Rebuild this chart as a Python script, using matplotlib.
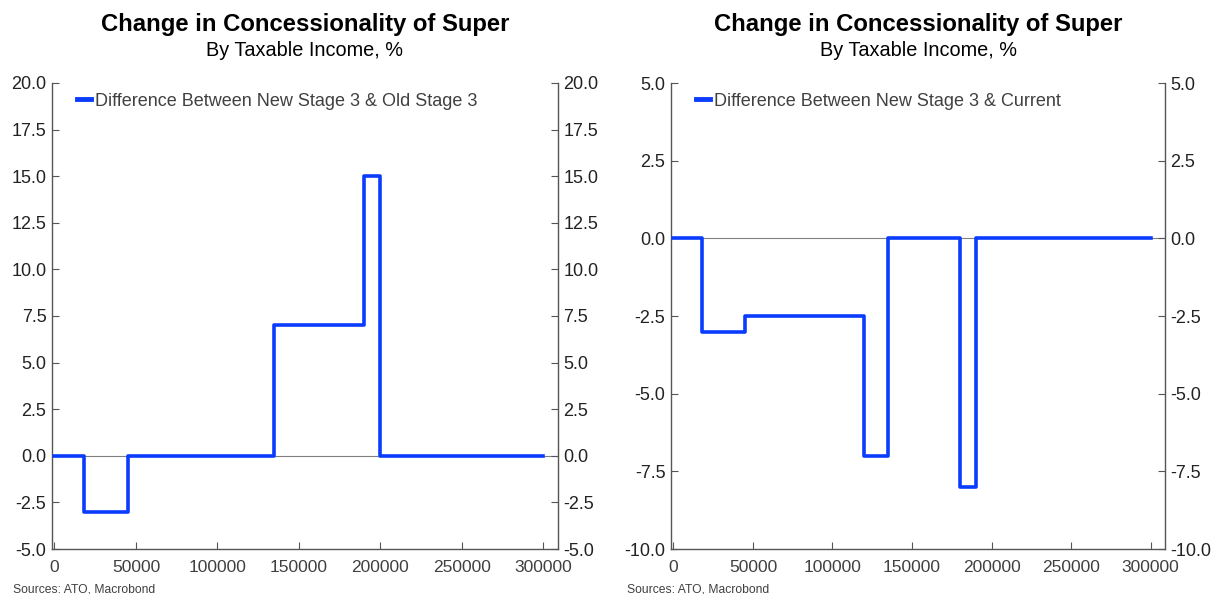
import matplotlib
matplotlib.use('Agg')
import matplotlib.pyplot as plt
from matplotlib.ticker import MultipleLocator, FormatStrFormatter

plt.rcParams['font.family'] = ['Liberation Sans', 'DejaVu Sans']

# step edges (taxable income) and values
x1 = [0, 18200, 18200, 45000, 45000, 135000, 135000, 190000, 190000, 200000, 200000, 300000]
y1 = [0, 0, -3, -3, 0, 0, 7, 7, 15, 15, 0, 0]

x2 = [0, 18200, 18200, 45000, 45000, 120000, 120000, 135000, 135000, 180000, 180000, 190000, 190000, 300000]
y2 = [0, 0, -3, -3, -2.5, -2.5, -7, -7, 0, 0, -8, -8, 0, 0]

label1 = 'Difference Between New Stage 3 & Old Stage 3'
label2 = 'Difference Between New Stage 3 & Current'
title = 'Change in Concessionality of Super'
subtitle = 'By Taxable Income, %'
source = 'Sources: ATO, Macrobond'

c_line = '#0a3cff'
c_txt = '#404040'

fig = plt.figure(figsize=(12.19, 5.94), dpi=100)

# axes positions in figure fractions (from pixel measures)
W, H = 1219, 594
ax_l = fig.add_axes([52/W, 1-549/H, (558-52)/W, (549-83)/H])
ax_r = fig.add_axes([671/W, 1-549/H, (1165-671)/W, (549-83)/H])

panels = [
	(ax_l, x1, y1, label1, (-5, 20), 2.5, 13),
	(ax_r, x2, y2, label2, (-10, 5), 2.5, 627),
]

for ax, xs, ys, lab, ylim, step, src_px in panels:
	ax.axhline(0, color='#808080', lw=0.8, zorder=1)
	ax.plot(xs, ys, color=c_line, lw=2.6, label=lab, zorder=3)
	ax.set_xlim(-1500, 309000)
	ax.set_ylim(*ylim)
	ax.yaxis.set_major_locator(MultipleLocator(step))
	ax.xaxis.set_major_locator(MultipleLocator(50000))
	ax.yaxis.set_major_formatter(FormatStrFormatter('%.1f'))
	ax.spines['top'].set_visible(False)
	for s in ['left', 'right', 'bottom']:
		ax.spines[s].set_color('#555555')
		ax.spines[s].set_linewidth(1.0)
	ax.tick_params(axis='both', direction='in', length=5, color='#555555')
	ax.tick_params(axis='y', left=True, right=True, labelleft=True, labelright=True,
		labelcolor='#222222', labelsize=13, pad=4)
	ax.tick_params(axis='x', labelcolor=c_txt, labelsize=12.5, pad=8)
	leg = ax.legend(loc='upper left', frameon=False, fontsize=13, handlelength=0.8,
		handletextpad=0.2, borderaxespad=0.0, bbox_to_anchor=(0.035, 0.995))
	for t in leg.get_texts():
		t.set_color(c_txt)
	for ln in leg.get_lines():
		ln.set_linewidth(3.5)

	cx = (ax.get_position().x0 + ax.get_position().x1) / 2
	fig.text(cx, 1-25/H, title, ha='center', va='center', fontsize=17.2, fontweight='bold')
	fig.text(cx, 1-51/H, subtitle, ha='center', va='center', fontsize=14.3)
	fig.text(src_px/W, 1-589/H, source, ha='left', va='center', fontsize=8.7, color=c_txt)

fig.savefig('out.png', dpi=100)
